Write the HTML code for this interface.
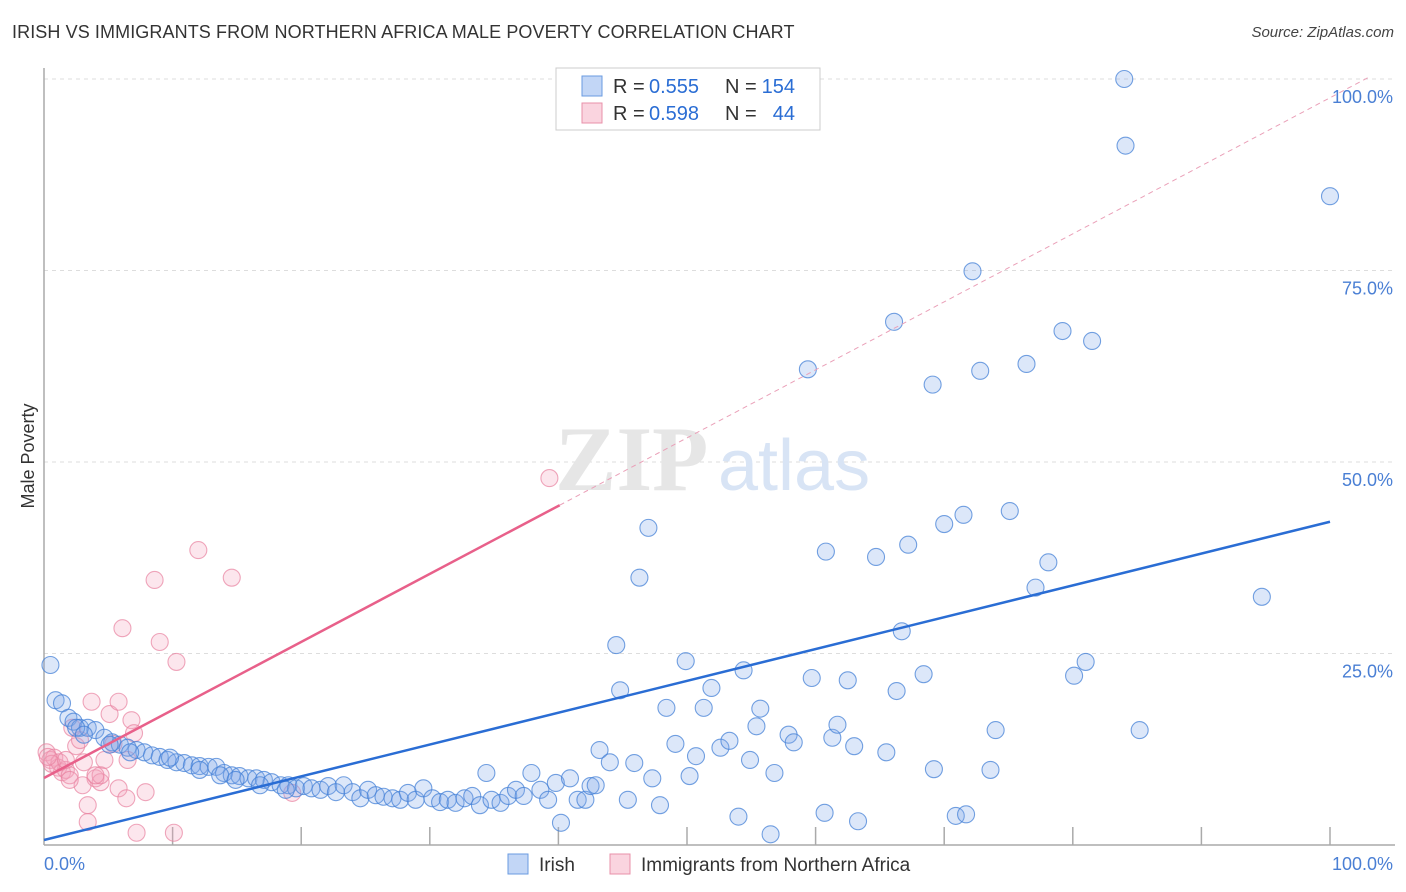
<!DOCTYPE html>
<html><head><meta charset="utf-8">
<style>
body{margin:0;background:#fff;font-family:"Liberation Sans",sans-serif;}
#wrap{position:relative;width:1406px;height:892px;overflow:hidden;}
.title{position:absolute;left:12px;top:22px;font-size:18px;color:#333;letter-spacing:0.1px;}
.source{position:absolute;right:12px;top:24px;font-size:15px;color:#444;font-style:italic;}
</style></head>
<body>
<div id="wrap">
<div class="title">IRISH VS IMMIGRANTS FROM NORTHERN AFRICA MALE POVERTY CORRELATION CHART</div>
<div class="source">Source: ZipAtlas.com</div>
<svg id="chart" width="1406" height="892" style="position:absolute;left:0;top:0"></svg>
</div>
<script>
const irishX=[0.5,0.9,1.4,1.9,2.3,2.8,3.4,4.0,4.7,5.3,5.9,6.5,7.2,7.8,8.4,9.0,9.6,10.3,10.9,11.5,12.1,12.8,13.4,14.0,14.6,15.2,15.9,16.5,17.1,17.7,18.4,19.0,19.6,20.2,20.8,21.5,22.1,22.7,23.3,24.0,24.6,25.2,25.8,26.4,27.1,27.7,28.3,28.9,29.5,30.2,30.8,31.4,32.0,32.7,33.3,33.9,34.4,34.8,35.5,36.1,36.7,37.3,37.9,38.6,39.2,39.8,40.2,40.9,41.5,42.1,42.5,42.9,43.2,44.0,44.5,44.8,45.4,45.9,46.3,47.0,47.3,47.9,48.4,49.1,49.9,50.2,50.7,51.3,51.9,52.6,53.3,54.0,54.4,54.9,55.4,55.7,56.5,56.8,57.9,58.3,59.7,59.4,60.7,60.8,61.3,61.7,62.5,63.0,63.3,64.7,65.5,66.3,66.1,66.7,67.2,68.4,69.1,69.2,70.0,70.9,71.5,71.7,72.2,72.8,73.6,74.0,75.1,76.4,77.1,78.1,79.2,80.1,81.0,81.5,84.0,84.1,85.2,94.7,100,2.5,3.1,5.1,6.7,9.8,12.1,13.7,14.9,16.8,18.8];
const irishY=[23.5,18.9,18.5,16.6,16.1,15.3,15.3,15.0,14.0,13.4,13.1,12.7,12.4,12.1,11.7,11.5,11.1,10.8,10.7,10.4,10.3,10.2,10.2,9.4,9.1,9.0,8.7,8.7,8.5,8.2,7.8,7.8,7.4,7.7,7.4,7.2,7.7,6.9,7.8,6.9,6.1,7.2,6.5,6.3,6.1,5.9,6.8,5.9,7.4,6.1,5.6,5.9,5.5,6.1,6.4,5.2,9.4,5.9,5.5,6.4,7.2,6.4,9.4,7.2,5.9,8.1,2.9,8.7,5.9,5.9,7.7,7.8,12.4,10.8,26.1,20.2,5.9,10.7,34.9,41.4,8.7,5.2,17.9,13.2,24.0,9.0,11.6,17.9,20.5,12.7,13.6,3.7,22.8,11.1,15.5,17.8,1.4,9.4,14.4,13.4,21.8,62.1,4.2,38.3,14.0,15.7,21.5,12.9,3.1,37.6,12.1,20.1,68.3,27.9,39.2,22.3,60.1,9.9,41.9,3.8,43.1,4.0,74.9,61.9,9.8,15.0,43.6,62.8,33.6,36.9,67.1,22.1,23.9,65.8,100,91.3,15.0,32.4,84.7,15.3,14.4,13.1,12.1,11.4,9.8,9.1,8.5,7.8,7.2];
const afX=[0.2,0.5,0.8,1.1,1.4,1.7,2.0,2.2,2.5,2.8,3.1,3.4,3.4,3.7,4.0,4.4,4.7,5.1,5.4,5.8,5.8,6.1,6.4,6.5,6.8,7.0,7.9,8.6,9.0,10.1,10.3,12.0,14.6,19.3,39.3,7.2,3.0,2.0,1.2,4.4,4.0,0.6,1.7,0.3];
const afY=[12.1,11.1,11.4,10.1,9.5,9.8,9.1,15.3,12.9,13.7,10.8,5.2,3.0,18.7,8.7,8.2,11.1,17.1,13.2,18.7,7.4,28.3,6.1,11.1,16.3,14.6,6.9,34.6,26.5,1.6,23.9,38.5,34.9,6.8,47.9,1.6,7.8,8.5,10.8,9.1,9.1,10.6,11.1,11.5];
const irishFit=[0.65,42.2];   // intercept, value at 100%
const afFit=[8.75,0.888];     // intercept, slope
const yTicks=[25,50,75,100];
const yTickLabels=["25.0%","50.0%","75.0%","100.0%"];
const xTicks=[10,20,30,40,50,60,70,80,90,100];

const NS="http://www.w3.org/2000/svg";
const svg=document.getElementById('chart');
const X0=44,X1=1330,Y0=845,Y100=79;
const sx=v=>X0+(X1-X0)*v/100;
const sy=v=>Y0-(Y0-Y100)*v/100;
function mk(t,a,p){const e=document.createElementNS(NS,t);for(const k in a)e.setAttribute(k,a[k]);(p||svg).appendChild(e);return e;}

yTicks.forEach((v,i)=>{
  const g=mk('line',{x1:X0,x2:1395,y1:sy(v),y2:sy(v),stroke:'#ddd','stroke-dasharray':'4,4'});
  
  
  const t=mk('text',{x:1393,y:sy(v)+24,'text-anchor':'end','font-size':18,fill:'#4a7fd4'});
  t.textContent=yTickLabels[i];
  
  
});
let a=mk('line',{x1:X0,x2:X0,y1:68,y2:Y0,stroke:'#aaa','stroke-width':1.5});


a=mk('line',{x1:X0,x2:1395,y1:Y0,y2:Y0,stroke:'#aaa','stroke-width':1.5});


xTicks.forEach(v=>{
  const t=mk('line',{x1:sx(v),x2:sx(v),y1:Y0,y2:Y0-18,stroke:'#aaa','stroke-width':1.5});
  
  
});
let t=mk('text',{x:44,y:870,'font-size':18,fill:'#4a7fd4'});t.textContent='0.0%';


t=mk('text',{x:1393,y:870,'font-size':18,fill:'#4a7fd4','text-anchor':'end'});t.textContent='100.0%';


t=mk('text',{x:34,y:456,'font-size':18,fill:'#333','text-anchor':'middle',transform:'rotate(-90 34 456)'});t.textContent='Male Poverty';


t=mk('text',{x:555,y:490,'font-size':92,fill:'#e6e6e6','font-family':'Liberation Serif, serif','font-weight':'bold'});t.textContent='ZIP';


t=mk('text',{x:718,y:490,'font-size':72,fill:'#d8e4f5'});t.textContent='atlas';



afX.forEach((x,i)=>{
  const c=mk('circle',{cx:sx(x),cy:sy(afY[i]),r:8.5,fill:'rgba(245,165,190,0.28)',stroke:'rgba(232,130,160,0.7)','stroke-width':1.1});
  
  
});
irishX.forEach((x,i)=>{
  const c=mk('circle',{cx:sx(x),cy:sy(irishY[i]),r:8.5,fill:'rgba(130,170,235,0.28)',stroke:'rgba(70,130,215,0.75)','stroke-width':1.1});
  
  
});
let l=mk('line',{x1:sx(0),y1:sy(irishFit[0]),x2:sx(100),y2:sy(irishFit[1]),stroke:'#2a6dd4','stroke-width':2.5});


const afEnd=40.1;
l=mk('line',{x1:sx(0),y1:sy(afFit[0]),x2:sx(afEnd),y2:sy(afFit[0]+afFit[1]*afEnd),stroke:'#e8608a','stroke-width':2.5});


l=mk('line',{x1:sx(afEnd),y1:sy(afFit[0]+afFit[1]*afEnd),x2:sx(103),y2:sy(afFit[0]+afFit[1]*103),stroke:'#eaa0b8','stroke-width':1,'stroke-dasharray':'5,4'});



const lg=mk('g',{});


mk('rect',{x:556,y:68,width:264,height:62,fill:'#fff',stroke:'#ccc'},lg);
mk('rect',{x:582,y:76,width:20,height:20,fill:'rgba(120,165,235,0.45)',stroke:'#6a9be0'},lg);
mk('rect',{x:582,y:103,width:20,height:20,fill:'rgba(245,160,185,0.45)',stroke:'#e890aa'},lg);
[[93,'0.555','154'],[120,'0.598','44']].forEach(r=>{
  let tx=mk('text',{x:613,y:r[0],'font-size':20,fill:'#333'},lg);tx.textContent='R =';
  tx=mk('text',{x:649,y:r[0],'font-size':20,fill:'#2a6dd4'},lg);tx.textContent=r[1];
  tx=mk('text',{x:725,y:r[0],'font-size':20,fill:'#333'},lg);tx.textContent='N =';
  tx=mk('text',{x:795,y:r[0],'font-size':20,fill:'#2a6dd4','text-anchor':'end'},lg);tx.textContent=r[2];
});
const bl=mk('g',{});


mk('rect',{x:508,y:854,width:20,height:20,fill:'rgba(120,165,235,0.45)',stroke:'#6a9be0'},bl);
t=mk('text',{x:539,y:871,'font-size':19,fill:'#333'},bl);t.textContent='Irish';
mk('rect',{x:610,y:854,width:20,height:20,fill:'rgba(245,160,185,0.45)',stroke:'#e890aa'},bl);
t=mk('text',{x:641,y:871,'font-size':19,fill:'#333'},bl);t.textContent='Immigrants from Northern Africa';
</script>
</body></html>
